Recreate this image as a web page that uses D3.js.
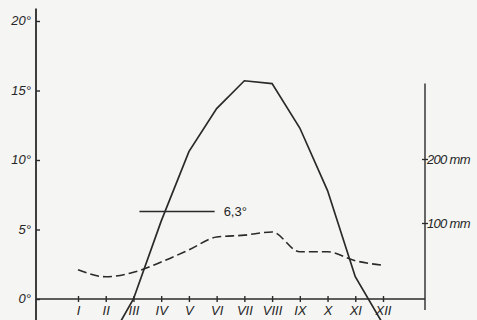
<!DOCTYPE html>
<html>
<head>
<meta charset="utf-8">
<script src="https://cdn.jsdelivr.net/npm/d3@7"></script>
<style>
  body { margin: 0; background: #f5f5f3; }
  svg { display: block; }
  text { font-family: "Liberation Sans", Arial, sans-serif; font-style: italic; fill: #262626; }
</style>
</head>
<body>
<svg id="chart"></svg>
<script>
const months = ["I", "II", "III", "IV", "V", "VI", "VII", "VIII", "IX", "X", "XI", "XII"];
// monthly mean temperature, °C
const temperature = [-5, -3.5, 0, 5.6, 10.6, 13.7, 15.7, 15.5, 12.3, 7.8, 1.6, -1.8];
// monthly precipitation, mm
const precipitation = [27, 16, 23, 39, 58, 78, 81, 86, 55, 55, 41, 34];
const annualMean = 6.3;
const tempTicks = [0, 5, 10, 15, 20];
const precipTicks = [100, 200];

const w = 477, h = 320;
const svg = d3.select("#chart").attr("width", w).attr("height", h);

const x = d3.scalePoint().domain(months).range([78, 383]);
const yT = d3.scaleLinear().domain([0, 20]).range([299, 21]);
const yP = d3.scaleLinear().domain([0, 200]).range([287, 159]);
const axisX = 36, rightX = 425;
const ink = "#2a2a2a";

// left axis (temperature)
const left = svg.append("g")
  .attr("transform", `translate(${axisX},0)`)
  .call(d3.axisLeft(yT).tickValues(tempTicks).tickSize(5).tickFormat(d => d + "°"));
left.select(".domain").remove();
left.selectAll(".tick line").attr("x2", 4).attr("stroke", ink).attr("stroke-width", 1.4);
left.selectAll(".tick text").attr("x", -5).attr("dy", "0.3em")
  .style("font-size", "13px").style("font-family", "Liberation Sans, sans-serif");
svg.append("line")
  .attr("x1", axisX).attr("x2", axisX)
  .attr("y1", yT(20.9)).attr("y2", h)
  .attr("stroke", ink).attr("stroke-width", 1.8);

// bottom axis (months)
const bottom = svg.append("g")
  .attr("transform", `translate(0,${yT(0)})`)
  .call(d3.axisBottom(x).tickSize(3));
bottom.select(".domain").remove();
bottom.selectAll(".tick line").attr("y1", -3).attr("stroke", ink).attr("stroke-width", 1.4);
bottom.selectAll(".tick text").attr("y", 7).attr("dy", "0.71em")
  .style("font-size", "13px").style("font-family", "Liberation Sans, sans-serif");
svg.append("line")
  .attr("x1", axisX).attr("x2", rightX)
  .attr("y1", yT(0)).attr("y2", yT(0))
  .attr("stroke", ink).attr("stroke-width", 1.5);

// right axis (precipitation)
const right = svg.append("g")
  .attr("transform", `translate(${rightX},0)`)
  .call(d3.axisRight(yP).tickValues(precipTicks).tickSize(3).tickFormat(d => d + " mm"));
right.select(".domain").remove();
right.selectAll(".tick line").attr("x1", -3).attr("stroke", ink).attr("stroke-width", 1.3);
right.selectAll(".tick text").attr("x", 2).attr("dy", "0.32em")
  .style("font-size", "13px").style("letter-spacing", "-0.7px")
  .style("font-family", "Liberation Sans, sans-serif");
svg.append("line")
  .attr("x1", rightX).attr("x2", rightX)
  .attr("y1", yP(318)).attr("y2", yP(-36))
  .attr("stroke", ink).attr("stroke-width", 1.4);

// precipitation (dashed)
svg.append("path")
  .datum(precipitation)
  .attr("fill", "none")
  .attr("stroke", ink)
  .attr("stroke-width", 1.6)
  .attr("stroke-dasharray", "9,4")
  .attr("d", d3.line().x((d, i) => x(months[i])).y(d => yP(d)).curve(d3.curveMonotoneX));

// temperature (solid)
svg.append("path")
  .datum(temperature)
  .attr("fill", "none")
  .attr("stroke", ink)
  .attr("stroke-width", 1.7)
  .attr("d", d3.line().x((d, i) => x(months[i])).y(d => yT(d)));

// annual mean marker
svg.append("line")
  .attr("x1", x("III") + 6).attr("x2", x("VI") - 2)
  .attr("y1", yT(annualMean)).attr("y2", yT(annualMean))
  .attr("stroke", ink).attr("stroke-width", 1.5);
svg.append("text")
  .attr("x", x("VI") + 7).attr("y", yT(annualMean))
  .attr("dy", "0.35em")
  .style("font-size", "13px").style("font-style", "normal")
  .text("6,3°");
</script>
</body>
</html>
